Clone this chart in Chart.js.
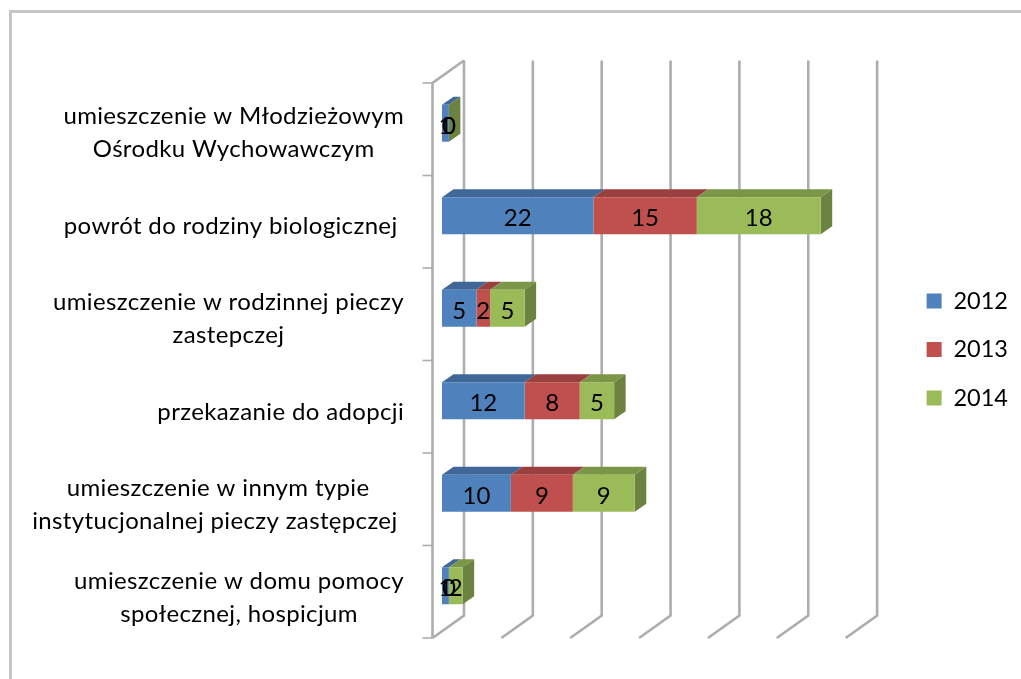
<!DOCTYPE html>
<html><head><meta charset="utf-8">
<style>
html,body{margin:0;padding:0;background:#fff;overflow:hidden;width:1021px;height:679px}
#frame{position:absolute;left:9px;top:10px;width:1100px;height:800px;border:3px solid #c6c6c6;box-sizing:border-box}
#wrap{position:absolute;left:0;top:0;width:1021px;height:679px;filter:blur(0.45px)}
</style>
<script src="https://cdn.jsdelivr.net/npm/chart.js@4"></script>
</head><body>
<div id="frame"></div>
<div id="wrap"><canvas id="c" width="1021" height="679"></canvas></div>
<script>
const categories = [
  ["umieszczenie w Młodzieżowym","Ośrodku Wychowawczym"],
  ["powrót do rodziny biologicznej "],
  ["umieszczenie w rodzinnej pieczy","zastepczej"],
  ["przekazanie do adopcji"],
  ["umieszczenie w innym typie","instytucjonalnej pieczy zastępczej "],
  ["umieszczenie w domu pomocy","społecznej, hospicjum"]
];
const series2012 = [1,22,5,12,10,1];
const series2013 = [0,15,2,8,9,0];
const series2014 = [0,18,5,5,9,2];
const years = ["2012","2013","2014"];
const frontColors = ["#4f81bd","#c0504d","#9bbb59"];
const topColors = ["#3f6797","#9a403e","#7c9647"];
const sideColors = ["#365a84","#873835","#6c8240"];

const FONT = '24px Lato';
const LABEL_RIGHT = 404;

const threeD = {
  id:'threeD',
  afterLayout(chart){
    const l = chart.legend, dx = 46.5, dy = -5;
    l.left += dx; l.right += dx; l.top += dy; l.bottom += dy;
  },
  beforeDatasetsDraw(chart){
    const {ctx, scales:{x,y}} = chart;
    const band = y.getPixelForValue(1) - y.getPixelForValue(0);
    const top = y.getPixelForValue(0) - band/2 + 6;
    const bot = y.getPixelForValue(categories.length-1) + band/2 + 6;
    const fx = -9.5, bx = 22, by = -22.5;
    ctx.save();
    ctx.strokeStyle = '#adadad';
    ctx.lineWidth = 2.6;
    ctx.lineCap = 'butt';
    x.ticks.forEach((t,i)=>{
      const p = x.getPixelForTick(i);
      ctx.beginPath();
      ctx.moveTo(p+fx, bot);
      ctx.lineTo(p+bx, bot+by);
      ctx.lineTo(p+bx, top+by);
      ctx.stroke();
    });
    // wall edge, top diagonal and tick marks
    const p0 = x.getPixelForValue(0);
    ctx.beginPath();
    ctx.moveTo(p0+bx, top+by);
    ctx.lineTo(p0+fx, top);
    ctx.lineTo(p0+fx, bot);
    ctx.stroke();
    ctx.lineWidth = 1.6;
    for(let i=0;i<=categories.length;i++){
      const yy = top + band*i;
      ctx.beginPath();
      ctx.moveTo(p0+fx-10, yy);
      ctx.lineTo(p0+fx, yy);
      ctx.stroke();
    }
    // 3D faces of every bar
    const ddx = 11.5, ddy = -8;
    chart.data.datasets.forEach((ds,di)=>{
      chart.getDatasetMeta(di).data.forEach((b,i)=>{
        const t = b.y - b.height/2, bt = b.y + b.height/2, l = b.base, r = b.x;
        if(r>l){
          ctx.fillStyle = topColors[di];
          ctx.beginPath();
          ctx.moveTo(l,t);ctx.lineTo(l+ddx,t+ddy);ctx.lineTo(r+ddx,t+ddy);ctx.lineTo(r,t);ctx.closePath();ctx.fill();
        }
        if(di===chart.data.datasets.length-1){
          ctx.fillStyle = sideColors[di];
          ctx.beginPath();
          ctx.moveTo(r,t);ctx.lineTo(r+ddx,t+ddy);ctx.lineTo(r+ddx,bt+ddy);ctx.lineTo(r,bt);ctx.closePath();ctx.fill();
        }
      });
    });
    ctx.restore();
  },
  afterDatasetsDraw(chart){
    const {ctx, scales:{y}} = chart;
    ctx.save();
    ctx.fillStyle = '#000';
    ctx.font = FONT;
    ctx.textAlign = 'center';
    ctx.textBaseline = 'middle';
    chart.data.datasets.forEach((ds,di)=>{
      chart.getDatasetMeta(di).data.forEach((b,i)=>{
        ctx.fillText(String(ds.data[i]), (b.x+b.base)/2, b.y+3);
      });
    });
    // category labels: block right-aligned, lines centred in the block
    ctx.letterSpacing = '0.35px';
    const lh = 33;
    categories.forEach((lines,i)=>{
      const cy = y.getPixelForValue(i) + 9.5 + i*0.6;
      const w = Math.max(...lines.map(s=>ctx.measureText(s).width));
      const cx = LABEL_RIGHT - w/2;
      lines.forEach((s,k)=>{
        ctx.fillText(s, cx, cy + (k-(lines.length-1)/2)*lh);
      });
    });
    ctx.restore();
  }
};

new Chart(document.getElementById('c'),{
  type:'bar',
  data:{
    labels:categories,
    datasets:[series2012,series2013,series2014].map((d,i)=>({
      label:years[i], data:d, backgroundColor:frontColors[i], borderWidth:0,
      categoryPercentage:1, barPercentage:0.4
    }))
  },
  options:{
    indexAxis:'y',
    responsive:false,
    animation:false,
    layout:{padding:{left:442,top:77,bottom:47,right:49.6}},
    scales:{
      x:{stacked:true,min:0,max:60,display:true,afterFit(s){s.height=0;},
         ticks:{display:false,stepSize:10},grid:{display:false},border:{display:false}},
      y:{stacked:true,display:true,afterFit(s){s.width=0;},
         ticks:{display:false},grid:{display:false},border:{display:false}}
    },
    plugins:{
      tooltip:{enabled:false},
      legend:{
        position:'right',
        labels:{
          boxWidth:15,boxHeight:15,padding:25,
          color:'#000',
          font:{family:'Lato',size:23.5}
        }
      }
    }
  },
  plugins:[threeD]
});
</script>
</body></html>
